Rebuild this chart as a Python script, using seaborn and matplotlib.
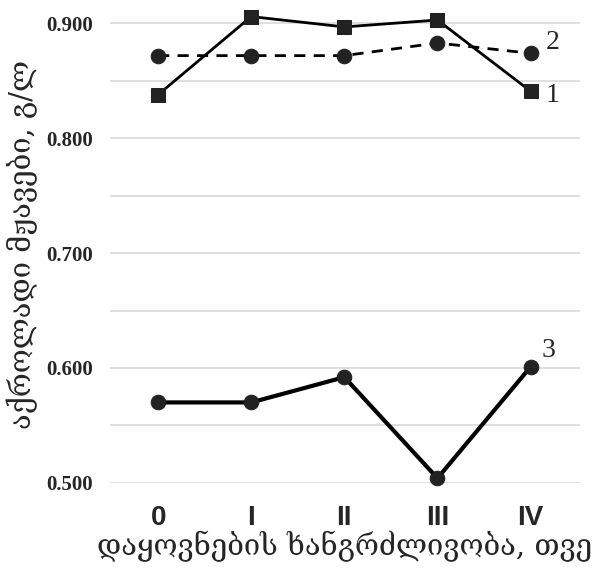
import matplotlib
matplotlib.use("Agg")
import matplotlib.pyplot as plt
import seaborn as sns
import pandas as pd
import numpy as np

# data
months = ["0", "I", "II", "III", "IV"]
series_1 = [0.838, 0.906, 0.897, 0.903, 0.841]
series_2 = [0.872, 0.872, 0.872, 0.883, 0.874]
series_3 = [0.570, 0.570, 0.592, 0.504, 0.601]
series_names = ["1", "2", "3"]

sns.set_style("white")
plt.rcParams['font.family'] = ['DejaVu Serif', 'DejaVu Sans']

pos = np.arange(len(months))
df = pd.DataFrame({
    "pos": np.tile(pos, 3),
    "value": series_1 + series_2 + series_3,
    "series": np.repeat(series_names, len(months)),
})

fig = plt.figure(figsize=(5.93, 5.68), dpi=100)
ax = fig.add_axes([0.185, 0.15, 0.793, 0.839])

styles = {"1": dict(marker="s", ls="-", lw=2.0, ms=10.5),
          "2": dict(marker="o", ls=(0, (4, 3)), lw=2.0, ms=10.5),
          "3": dict(marker="o", ls="-", lw=3.0, ms=10.5)}
for name in series_names:
    sub = df[df["series"] == name]
    st = styles[name]
    sns.lineplot(data=sub, x="pos", y="value", ax=ax, color="black",
                 marker=st["marker"], linestyle=st["ls"], linewidth=st["lw"],
                 markersize=st["ms"], markeredgecolor="#222222",
                 markerfacecolor="#222222", clip_on=False, zorder=3)

# series numbers at the right end
ends = {"1": series_1[-1], "2": series_2[-1], "3": series_3[-1]}
offs = {"1": (0.16, -0.004), "2": (0.16, 0.009), "3": (0.12, 0.014)}
for name in series_names:
    dx, dy = offs[name]
    ax.text(pos[-1] + dx, ends[name] + dy, name, fontsize=20,
            family="Liberation Serif", va="center", ha="left")

ax.set_xlim(-0.52, 4.53)
ax.set_ylim(0.5, 0.915)
ax.set_yticks([0.5, 0.6, 0.7, 0.8, 0.9])
ax.set_yticks([0.55, 0.65, 0.75, 0.85], minor=True)
ax.set_yticklabels(["0.500", "0.600", "0.700", "0.800", "0.900"],
                   family="Liberation Serif", fontweight="bold", fontsize=15)
ax.set_xticks(pos)
ax.set_xticklabels(months, family="Liberation Sans", fontweight="bold", fontsize=20)
ax.grid(axis="y", which="both", color="#d9d9d9", lw=1.2)
ax.tick_params(length=0, pad=12)
ax.tick_params(axis="x", pad=16)
for s in ax.spines.values():
    s.set_visible(False)

ax.set_xlabel("დაყოვნების ხანგრძლივობა, თვე", fontsize=21, labelpad=0)
ax.set_ylabel("აქროლადი მჟავები, გ/ლ", fontsize=21, labelpad=6)

fig.savefig("out.png", dpi=100)
